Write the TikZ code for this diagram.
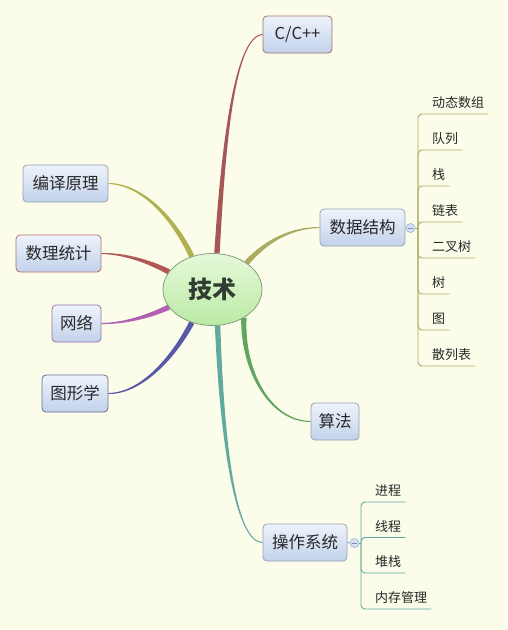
\documentclass[tikz,border=0pt]{standalone}
\usepackage{fontspec}
\newfontfamily\cjk{Noto Sans CJK SC}
\usetikzlibrary{shapes.geometric,calc,backgrounds}
\definecolor{bg}{RGB}{252,252,234}
\definecolor{boxtop}{RGB}{238,243,251}
\definecolor{boxbot}{RGB}{194,210,235}
\definecolor{txt}{RGB}{40,40,40}
\definecolor{ccpp}{RGB}{166,86,86}
\definecolor{cds}{RGB}{170,170,96}
\definecolor{calgo}{RGB}{96,166,96}
\definecolor{cos}{RGB}{96,170,160}
\definecolor{ccomp}{RGB}{176,176,80}
\definecolor{cstat}{RGB}{178,86,86}
\definecolor{cnet}{RGB}{178,96,178}
\definecolor{cgfx}{RGB}{88,88,168}
\definecolor{bcpp}{RGB}{160,112,112}
\definecolor{bblue}{RGB}{150,162,180}
\definecolor{bstat}{RGB}{180,112,112}
\definecolor{bnet}{RGB}{150,112,170}
\definecolor{bgfx}{RGB}{100,112,150}
\definecolor{etop}{RGB}{230,249,218}
\definecolor{ebot}{RGB}{186,234,164}
\definecolor{eborder}{RGB}{130,160,120}
\definecolor{circfill}{RGB}{214,224,242}
\definecolor{circdraw}{RGB}{160,176,210}
\newcommand\mmtaper[5]{%
  \fill[#1] ($(#2)!2.7pt!90:(#3)$) .. controls ($(#3)!2.1pt!90:(#4)$) and ($(#4)!1.0pt!90:(#5)$) .. ($(#5)!0.5pt!-90:(#4)$)
   -- ($(#5)!0.5pt!90:(#4)$) .. controls ($(#4)!1.0pt!-90:(#5)$) and ($(#3)!2.1pt!-90:(#4)$) .. ($(#2)!2.7pt!-90:(#3)$) -- cycle;}
\begin{document}
\begin{tikzpicture}[x=1pt,y=-1pt,
  topic/.style={draw=#1, line width=0.8pt, rounded corners=4pt, top color=boxtop, bottom color=boxbot,
    font=\cjk\fontsize{16.5}{16.5}\selectfont, text=txt, minimum height=37pt, inner xsep=0pt},
  leaf/.style={font=\cjk\fontsize{13}{13}\selectfont, text=txt, anchor=south west, minimum height=22pt,
    inner xsep=4pt, inner ysep=0pt},
  collapse/.style={circle, draw=circdraw, fill=circfill, line width=0.6pt, minimum size=9pt, inner sep=0pt},
  dsline/.style={draw=cds, line width=0.9pt},
  osline/.style={draw=cos, line width=0.9pt}]
\useasboundingbox (0,0) rectangle (507,630);
% central topic
\node[ellipse, draw=eborder, line width=0.8pt, top color=etop, bottom color=ebot, minimum width=99pt, minimum height=72pt, inner sep=0pt,
  font=\cjk\bfseries\fontsize{24}{24}\selectfont, text={rgb,255:red,50;green,60;blue,50}] (tech) at (212.5,289.5) {技术};
% main topics
\node[topic=bcpp, minimum width=69pt] (cpp) at (297.5,34.5) {C/C++};
\node[topic=bblue, minimum width=85pt] (ds) at (362.5,227.5) {数据结构};
\node[topic=bblue, minimum width=48pt] (algo) at (335,421.5) {算法};
\node[topic=bblue, minimum width=84pt] (os) at (305,542.5) {操作系统};
\node[topic=bblue, minimum width=85pt] (comp) at (65.5,183.5) {编译原理};
\node[topic=bstat, minimum width=85pt] (stat) at (58.5,253.5) {数理统计};
\node[topic=bnet, minimum width=49pt] (net) at (76.5,323.5) {网络};
\node[topic=bgfx, minimum width=66pt] (gfx) at (75,393.5) {图形学};
% collapse markers
\node[collapse] (dsc) at (410.5,228) {};
\draw[circdraw!80!black, line width=0.7pt] ($(dsc.center)+(-2.2,0)$) -- ($(dsc.center)+(2.2,0)$);
\node[collapse] (osc) at (354.5,543) {};
\draw[circdraw!80!black, line width=0.7pt] ($(osc.center)+(-2.2,0)$) -- ($(osc.center)+(2.2,0)$);
\coordinate (dsbar) at (418,228);
\coordinate (osbar) at (361,543);
% data structure leaves
\node[leaf] (d1) at (428,114) {动态数组};
\node[leaf] (d2) at (428,150) {队列};
\node[leaf] (d3) at (428,186) {栈};
\node[leaf] (d4) at (428,222) {链表};
\node[leaf] (d5) at (428,258) {二叉树};
\node[leaf] (d6) at (428,294) {树};
\node[leaf] (d7) at (428,330) {图};
\node[leaf] (d8) at (428,366) {散列表};
% os leaves
\node[leaf] (o1) at (371,502) {进程};
\node[leaf] (o2) at (371,537.5) {线程};
\node[leaf] (o3) at (371,573) {堆栈};
\node[leaf] (o4) at (371,609) {内存管理};
\begin{scope}[on background layer]
  \fill[bg] (0,0) rectangle (507,630);
  \mmtaper{ccpp}{tech.83}{223,150}{234,36}{cpp.west}
  \mmtaper{cds}{tech.38}{262,246}{285,228}{ds.west}
  \mmtaper{calgo}{tech.-42}{242,370}{270,421.5}{algo.west}
  \mmtaper{cos}{tech.-82}{222,440}{235,542.5}{os.west}
  \mmtaper{ccomp}{tech.122}{172,215}{140,184}{comp.east}
  \mmtaper{cstat}{tech.158}{150,262}{125,253.5}{stat.east}
  \mmtaper{cnet}{tech.-158}{150,316}{125,323.5}{net.east}
  \mmtaper{cgfx}{tech.-122}{172,360}{140,393.5}{gfx.east}
  \draw[dsline] (ds.east) -- (dsc.west);
  \draw[dsline] (dsc.east) -- (dsbar);
  \draw[osline] (os.east) -- (osc.west);
  \draw[osline] (osc.east) -- (osbar);
  \foreach \n in {d1,d2,d3,d4,d5,d6,d7,d8}
    \draw[dsline, rounded corners=4pt] (dsbar) -- (dsbar |- \n.south) -- (\n.south east);
  \foreach \n in {o1,o2,o3,o4}
    \draw[osline, rounded corners=4pt] (osbar) -- (osbar |- \n.south) -- (\n.south east);
\end{scope}
\end{tikzpicture}
\end{document}
